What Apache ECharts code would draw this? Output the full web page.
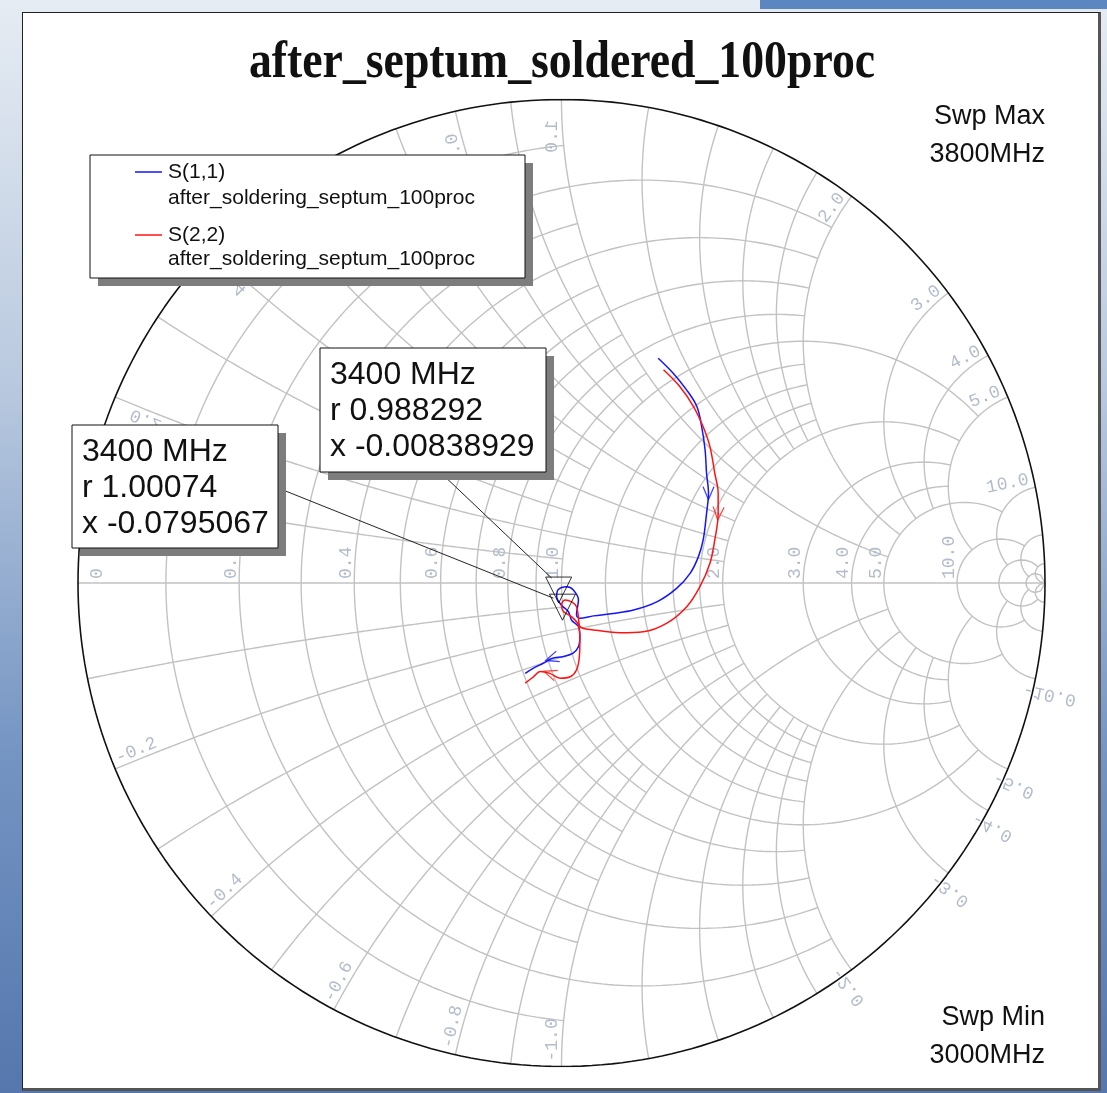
<!DOCTYPE html>
<html>
<head>
<meta charset="utf-8">
<title>after_septum_soldered_100proc</title>
<script src="https://cdn.jsdelivr.net/npm/echarts/dist/echarts.min.js"></script>
<style>
  html, body { margin: 0; padding: 0; }
  body {
    width: 1107px; height: 1093px; overflow: hidden;
    background: linear-gradient(to bottom, #e6ecf3 0%, #b9c9df 35%, #7393c2 70%, #5577ad 100%);
  }
  .topbar { position: absolute; left: 760px; top: 0; width: 347px; height: 9px; background: #5b86bf; border-bottom: 2px solid #dfe8f2; }
  .panel {
    position: absolute; left: 22px; top: 12px; width: 1075px; height: 1075px;
    background: #fff; border-left: 1px solid #222; border-top: 1px solid #222;
    border-right: 3px solid #555; border-bottom: 3px solid #555;
  }
  #chart { position: absolute; left: 0; top: 0; width: 1107px; height: 1093px; }
</style>
</head>
<body>
<div class="topbar"></div>
<div class="panel"></div>
<div id="chart"></div>
<script>
// S(1,1) reflection coefficient, 3000 -> 3800 MHz (real / imag)
const s11Re = [0.200, 0.231, 0.259, 0.280, 0.290, 0.297, 0.300, 0.304, 0.300, 0.293, 0.283, 0.266,
  0.238, 0.197, 0.149, 0.107, 0.066, 0.038, 0.031, 0.035, 0.024, 0.011, -0.007, -0.010, 0.000,
  0.014, 0.021, 0.035, 0.038, 0.035, 0.024, 0.004, -0.020, -0.038, -0.058, -0.075];
const s11Im = [0.465, 0.434, 0.399, 0.365, 0.323, 0.275, 0.227, 0.186, 0.144, 0.089, 0.054, 0.020,
  -0.011, -0.039, -0.056, -0.063, -0.068, -0.073, -0.066, -0.035, -0.014, -0.008, -0.014, -0.028, -0.046,
  -0.059, -0.077, -0.090, -0.111, -0.132, -0.145, -0.152, -0.156, -0.166, -0.176, -0.187];

// S(2,2)
const s22Re = [0.211, 0.245, 0.273, 0.293, 0.307, 0.317, 0.324, 0.324, 0.317, 0.307, 0.286, 0.259,
  0.218, 0.169, 0.121, 0.066, 0.038, 0.035, 0.031, 0.021, 0.007, 0.000, 0.004, 0.021, 0.035,
  0.038, 0.037, 0.031, 0.018, -0.003, -0.024, -0.044, -0.058, -0.075];
const s22Im = [0.441, 0.406, 0.365, 0.323, 0.282, 0.227, 0.186, 0.144, 0.089, 0.041, -0.008, -0.049,
  -0.083, -0.101, -0.103, -0.097, -0.090, -0.070, -0.049, -0.039, -0.035, -0.046, -0.059, -0.070, -0.087,
  -0.118, -0.152, -0.180, -0.194, -0.197, -0.187, -0.183, -0.194, -0.207];

// where the direction arrows sit on each trace
const s11ArrowAt = [7, 32];
const s22ArrowAt = [7, 30];

// markers at 3400 MHz (normalised impedance)
const markerFreq = ['3400 MHz', '3400 MHz'];
const markerR = [0.988292, 1.00074];
const markerX = [-0.00838929, -0.0795067];

// smith grid: values and how far (in the other coordinate) each line runs
const gridSteps = [
  { values: [0.1, 0.3, 0.5, 0.7, 0.9], limit: 1 },
  { values: [0.2, 0.4, 0.6, 0.8, 1.2, 1.4, 1.6, 1.8], limit: 2 },
  { values: [1, 2, 3, 4], limit: 5 },
  { values: [5], limit: 10 },
  { values: [10], limit: 20 },
  { values: [20], limit: 50 },
  { values: [50], limit: Infinity },
];
const rLabelValues = [0, 0.2, 0.4, 0.6, 0.8, 1, 2, 3, 4, 5, 10];
const xLabelValues = [0.2, 0.4, 0.6, 0.8, 1, 2, 3, 4, 5, 10];

const legendNames = ['S(1,1)', 'S(2,2)'];
const legendSub = 'after_soldering_septum_100proc';
const colors = ['#1414ff', '#ff1414'];

// z = r + jx  ->  gamma
function gamma(r, x) {
  const d = (r + 1) * (r + 1) + x * x;
  return [(r * r + x * x - 1) / d, (2 * x) / d];
}

const N = 300;
function rCircle(r, lim) {
  const a = lim === Infinity ? Math.PI / 2 - 1e-4 : Math.atan(lim);
  const pts = [];
  for (let i = 0; i <= N; i++) pts.push(gamma(r, Math.tan(-a + (2 * a * i) / N)));
  return pts;
}
function xArc(x, lim) {
  const a = lim === Infinity ? Math.PI / 2 - 1e-4 : Math.atan(lim);
  const pts = [];
  for (let i = 0; i <= N; i++) pts.push(gamma(Math.tan((a * i) / N), x));
  return pts;
}
function gridLine(pts, color, width) {
  return {
    type: 'line',
    data: pts,
    symbol: 'none',
    silent: true,
    z: 1,
    lineStyle: { color: color || '#c2c2c2', width: width || 1.4 },
  };
}

const series = [];
gridSteps.forEach((step) => {
  step.values.forEach((v) => {
    series.push(gridLine(rCircle(v, step.limit)));
    series.push(gridLine(xArc(v, step.limit)));
    series.push(gridLine(xArc(-v, step.limit)));
  });
});
series.push(gridLine([[-1, 0], [1, 0]]));
series.push(gridLine(rCircle(0, Infinity), '#111', 1.6));

const traces = [
  { re: s11Re, im: s11Im, arrows: s11ArrowAt },
  { re: s22Re, im: s22Im, arrows: s22ArrowAt },
];
traces.forEach((t, k) => {
  series.push({
    type: 'line',
    name: legendNames[k],
    data: t.re.map((v, i) => [v, t.im[i]]),
    symbol: 'none',
    smooth: 0.35,
    z: 5,
    lineStyle: { color: colors[k], width: 1.5 },
  });
  // chevron arrows along the sweep direction
  series.push({
    type: 'scatter',
    symbol: 'path://M0,0L6,13L12,0',
    symbolSize: [11, 13],
    z: 5,
    silent: true,
    itemStyle: { color: 'rgba(0,0,0,0)', borderColor: colors[k], borderWidth: 1.3 },
    data: t.arrows.map((i) => {
      const a = Math.atan2(t.im[i + 1] - t.im[i - 1], t.re[i + 1] - t.re[i - 1]);
      return { value: [t.re[i], t.im[i]], symbolRotate: (a * 180) / Math.PI + 90 };
    }),
  });
});

// marker triangles
series.push({
  type: 'scatter',
  symbol: 'path://M0,0L26,0L13,26Z',
  symbolSize: [26, 26],
  symbolOffset: [0, 5],
  z: 8,
  silent: true,
  itemStyle: { color: 'rgba(0,0,0,0)', borderColor: '#000', borderWidth: 1 },
  data: markerR.map((r, i) => gamma(r, markerX[i])),
});

const chart = echarts.init(document.getElementById('chart'));
chart.setOption({
  animation: false,
  grid: { left: 78, top: 99.5, width: 967, height: 967 },
  xAxis: { type: 'value', min: -1, max: 1, show: false },
  yAxis: { type: 'value', min: -1, max: 1, show: false },
  series: series,
});

function px(g) {
  return chart.convertToPixel({ xAxisIndex: 0, yAxisIndex: 0 }, g);
}
function unit(v) {
  const l = Math.hypot(v[0], v[1]);
  return [v[0] / l, v[1] / l];
}

const labelColor = '#b2bccb';
const labelFont = '18px "Liberation Mono"';
const charW = 10.8;
const graphic = [];

function addText(x, y, text, opt) {
  graphic.push({
    type: 'text',
    x: x,
    y: y,
    rotation: opt.rotation || 0,
    scaleX: opt.scaleX || 1,
    scaleY: opt.scaleY || 1,
    z: opt.z || 3,
    silent: true,
    style: {
      text: text,
      font: opt.font,
      fill: opt.fill || '#111',
      align: opt.align || 'left',
      textAlign: opt.align || 'left',
      verticalAlign: opt.verticalAlign || 'middle',
      textVerticalAlign: opt.verticalAlign || 'middle',
    },
  });
}

// resistance labels on the real axis
rLabelValues.forEach((r) => {
  const p = px(gamma(r, 0));
  const txt = r === 0 ? '0' : r.toFixed(1);
  addText(r === 0 ? p[0] + 19 : p[0] - 8, p[1] - 4, txt, {
    rotation: Math.PI / 2, font: labelFont, fill: labelColor,
  });
});

// reactance labels round the rim
function xLabel(v) {
  const E = px(gamma(0, v));
  const D = unit([1 - v * v, 2 * v]);
  const s = Math.sign(v);
  const Nv = unit([-s * 2 * v, -s * (v * v - 1)]);
  const num = Math.abs(v).toFixed(1);
  const txt = v < 0 ? '-' + num : num;
  let dir, along, side, align, scaleY;
  if (Math.abs(v) <= 1) {
    // reads inward from the rim; the upper half is the mirror of the lower half
    dir = D; side = 9;
    if (v < 0) { along = 5; align = 'left'; scaleY = 1; }
    else { along = 10 + (num.length + 1) * charW; align = 'right'; scaleY = -1; }
  } else if (v > 0) {
    dir = [-D[0], -D[1]]; along = 5; side = 9; align = 'right'; scaleY = 1;
  } else {
    dir = [-D[0], -D[1]]; along = 10; side = 13; align = 'left'; scaleY = -1;
  }
  const x = E[0] + D[0] * along + Nv[0] * side;
  const y = E[1] + D[1] * along + Nv[1] * side;
  addText(x, y, txt, {
    rotation: Math.atan2(-dir[1], dir[0]), scaleY: scaleY, align: align,
    font: labelFont, fill: labelColor,
  });
}
xLabelValues.forEach((v) => { xLabel(v); xLabel(-v); });

// title and sweep texts
addText(562, 64, 'after_septum_soldered_100proc', {
  font: 'bold 52px "Liberation Serif"', align: 'center', scaleX: 0.88, z: 6,
});
const sweepFont = '27px "Liberation Sans"';
addText(1045, 117, 'Swp Max', { font: sweepFont, align: 'right', z: 6 });
addText(1045, 155, '3800MHz', { font: sweepFont, align: 'right', z: 6 });
addText(1045, 1018, 'Swp Min', { font: sweepFont, align: 'right', z: 6 });
addText(1045, 1056, '3000MHz', { font: sweepFont, align: 'right', z: 6 });

function box(x, y, w, h, z) {
  graphic.push({ type: 'rect', shape: { x: x + 8, y: y + 8, width: w, height: h }, style: { fill: '#7d7d7d' }, z: z, silent: true });
  graphic.push({ type: 'rect', shape: { x: x, y: y, width: w, height: h }, style: { fill: '#fff', stroke: '#111', lineWidth: 1 }, z: z, silent: true });
}

// legend
box(90, 155, 435, 123, 10);
const legendFont = '21px "Liberation Sans"';
[[172, 198], [235, 259]].forEach((ys, k) => {
  graphic.push({ type: 'line', shape: { x1: 135, y1: ys[0], x2: 162, y2: ys[0] }, style: { stroke: colors[k], lineWidth: 1.5 }, z: 11, silent: true });
  addText(168, ys[0], legendNames[k], { font: legendFont, z: 11 });
  addText(168, ys[1], legendSub, { font: legendFont, z: 11 });
});

// marker readouts with leader lines
const markerBoxes = [
  { x: 320, y: 348, w: 226, h: 124, from: [440, 472], end: [-7, -7] },
  { x: 72, y: 425, w: 206, h: 123, from: [278, 488], end: [-9, -4] },
];
const boxFont = '32px "Liberation Sans"';
markerBoxes.forEach((b, i) => {
  const p = px(gamma(markerR[i], markerX[i]));
  graphic.push({
    type: 'line',
    shape: { x1: b.from[0], y1: b.from[1], x2: p[0] + b.end[0], y2: p[1] + b.end[1] },
    style: { stroke: '#222', lineWidth: 1 }, z: 9, silent: true,
  });
  box(b.x, b.y, b.w, b.h, 12);
  const lines = [markerFreq[i], 'r ' + markerR[i], 'x ' + markerX[i]];
  lines.forEach((t, j) => addText(b.x + 10, b.y + 27 + j * 36, t, { font: boxFont, z: 13 }));
});

chart.setOption({ graphic: graphic });
</script>
</body>
</html>
